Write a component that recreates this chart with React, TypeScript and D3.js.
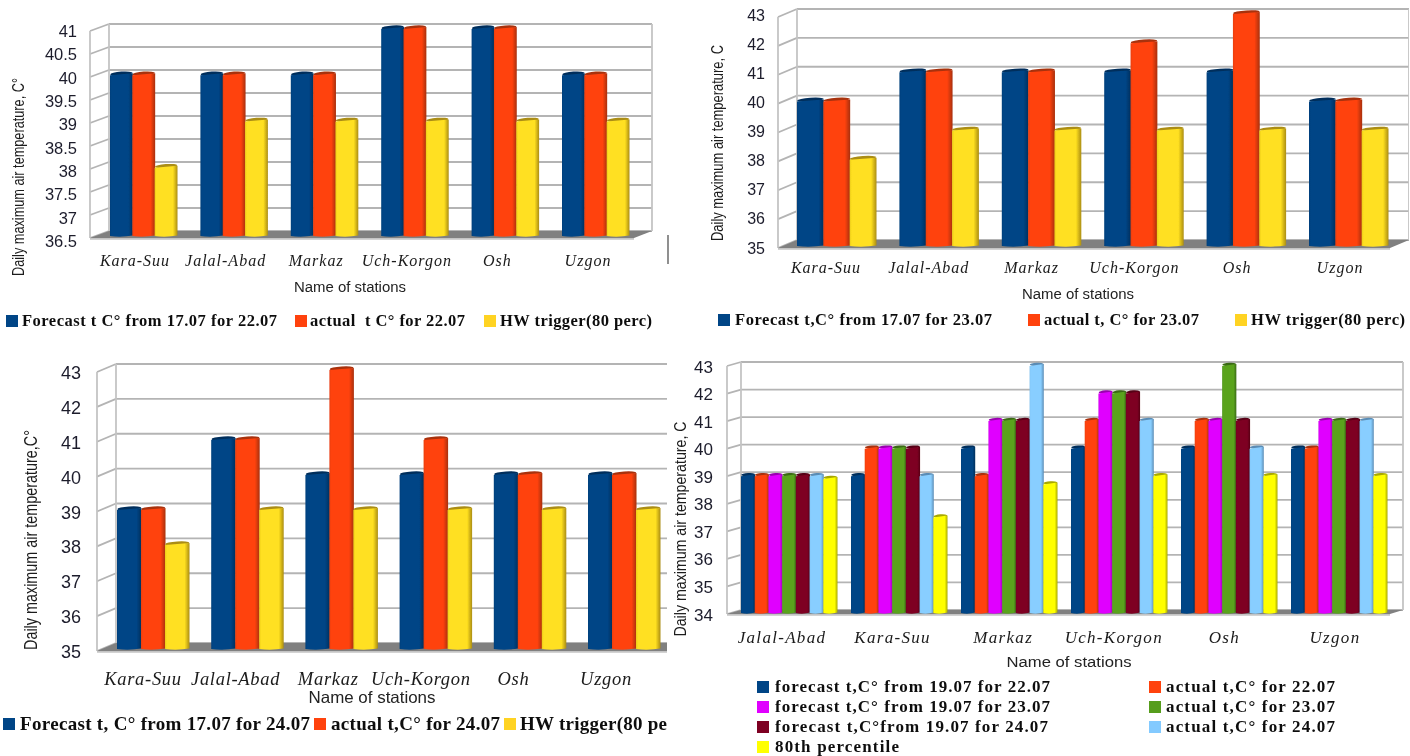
import React from "react";
import * as d3 from "d3";

// ---- categories and tick labels
const stationsA = ["Kara-Suu", "Jalal-Abad", "Markaz", "Uch-Korgon", "Osh", "Uzgon"];
const stationsD = ["Jalal-Abad", "Kara-Suu", "Markaz", "Uch-Korgon", "Osh", "Uzgon"];
const ticksA = [36.5, 37, 37.5, 38, 38.5, 39, 39.5, 40, 40.5, 41];
const ticksB = [35, 36, 37, 38, 39, 40, 41, 42, 43];
const ticksD = [34, 35, 36, 37, 38, 39, 40, 41, 42, 43];

// ---- panel 1 (22.07)
const forecast17for22 = [40, 40, 40, 41, 41, 40];
const actual22a = [40, 40, 40, 41, 41, 40];
const trigger22 = [38, 39, 39, 39, 39, 39];
// ---- panel 2 (23.07)
const forecast17for23 = [40, 41, 41, 41, 41, 40];
const actual23a = [40, 41, 41, 42, 43, 40];
const trigger23 = [38, 39, 39, 39, 39, 39];
// ---- panel 3 (24.07)
const forecast17for24 = [39, 41, 40, 40, 40, 40];
const actual24a = [39, 41, 43, 41, 40, 40];
const trigger24 = [38, 39, 39, 39, 39, 39];
// ---- panel 4 (forecast from 19.07)
const forecast19for22 = [39, 39, 40, 40, 40, 40];
const actual22d = [39, 40, 39, 41, 41, 40];
const forecast19for23 = [39, 40, 41, 42, 41, 41];
const actual23d = [39, 40, 41, 42, 43, 41];
const forecast19for24 = [39, 40, 41, 42, 41, 41];
const actual24d = [39, 39, 43, 41, 40, 41];
const percentile80 = [38.9, 37.5, 38.7, 39, 39, 39];

// [swatch / body colour, shaded edge, lit body colour]
const BLUE = ["#004586", "#002f5c", "#004586"];
const ORANGE = ["#ff420e", "#a8300c", "#ff420e"];
const GOLD = ["#ffd320", "#ab8d12", "#ffe020"];
const MAGENTA = ["#e000ff", "#9a00b0", "#e000ff"];
const GREEN = ["#579d1c", "#3a6a12", "#5aa31e"];
const MAROON = ["#7e0021", "#560016", "#7e0021"];
const SKY = ["#83caff", "#5a8cb5", "#88ceff"];
const YELLOW = ["#ffff00", "#a8a800", "#ffff00"];
const ALL = [BLUE, ORANGE, GOLD, MAGENTA, GREEN, MAROON, SKY, YELLOW];

const SERIF = "'Liberation Serif', serif";
const SANS = "'Liberation Sans', sans-serif";

type Legend = { text: string; sx: number; sy: number; s: number; tx: number; ty: number; len: number; c: string[] };
type P = {
  cats: string[]; ticks: number[]; series: number[][]; colors: string[][];
  back: [number, number]; frontX: number; frontRight: number; dy: number;
  gridTop: number; gridBottom: number; barTop: number; barBottom: number;
  start0: number; start5: number; groupW: number;
  tickX: number; tickTop: number; tickBottom: number; tickSize: number;
  catL: number; catR: number; catY: number; catSize: number; catSpace: number;
  xTitleX: number; xTitleY: number; xTitleSize: number; xTitleLen: number;
  yTitle: string; yTitleX: number; yTitleY: number; yTitleLen: number; yTitleSize: number;
  rightWall: boolean; legendSize: number; legend: Legend[]; capRy: number;
};

const panels: P[] = [
  {
    cats: stationsA, ticks: ticksA, series: [forecast17for22, actual22a, trigger22], colors: [BLUE, ORANGE, GOLD],
    back: [109, 652], frontX: 90, frontRight: 634, dy: 7,
    gridTop: 24, gridBottom: 231, barTop: 28, barBottom: 236,
    start0: 110, start5: 562, groupW: 67,
    tickX: 77, tickTop: 31, tickBottom: 241, tickSize: 16.5,
    catL: 135, catR: 588, catY: 266, catSize: 16, catSpace: 1,
    xTitleX: 350, xTitleY: 292, xTitleSize: 14, xTitleLen: 112,
    yTitle: "Daily maximum air temperature, C°", yTitleX: 24, yTitleY: 177, yTitleLen: 198, yTitleSize: 17,
    rightWall: true, legendSize: 16.5, capRy: 2,
    legend: [
      { text: "Forecast t C° from 17.07 for 22.07", sx: 6, sy: 315, s: 12, tx: 22, ty: 326, len: 255, c: BLUE },
      { text: "actual  t C° for 22.07", sx: 295, sy: 315, s: 12, tx: 310, ty: 326, len: 155, c: ORANGE },
      { text: "HW trigger(80 perc)", sx: 484, sy: 315, s: 12, tx: 500, ty: 326, len: 152, c: GOLD },
    ],
  },
  {
    cats: stationsA, ticks: ticksB, series: [forecast17for23, actual23a, trigger23], colors: [BLUE, ORANGE, GOLD],
    back: [797, 1409], frontX: 778, frontRight: 1390, dy: 8,
    gridTop: 9, gridBottom: 240, barTop: 13, barBottom: 246,
    start0: 797, start5: 1309, groupW: 79,
    tickX: 765, tickTop: 15, tickBottom: 248, tickSize: 16,
    catL: 826, catR: 1340, catY: 273, catSize: 16, catSpace: 1,
    xTitleX: 1078, xTitleY: 299, xTitleSize: 14, xTitleLen: 112,
    yTitle: "Daily maximum air temperature, C", yTitleX: 723, yTitleY: 143, yTitleLen: 196, yTitleSize: 16,
    rightWall: true, legendSize: 16.5, capRy: 2,
    legend: [
      { text: "Forecast t,C° from 17.07 for 23.07", sx: 718, sy: 314, s: 12, tx: 735, ty: 325, len: 257, c: BLUE },
      { text: "actual t, C° for 23.07", sx: 1028, sy: 314, s: 12, tx: 1044, ty: 325, len: 155, c: ORANGE },
      { text: "HW trigger(80 perc)", sx: 1235, sy: 314, s: 12, tx: 1251, ty: 325, len: 154, c: GOLD },
    ],
  },
  {
    cats: stationsA, ticks: ticksB, series: [forecast17for24, actual24a, trigger24], colors: [BLUE, ORANGE, GOLD],
    back: [116, 667], frontX: 97, frontRight: 667, dy: 8,
    gridTop: 364, gridBottom: 643, barTop: 369, barBottom: 649,
    start0: 117, start5: 588, groupW: 72,
    tickX: 81, tickTop: 373, tickBottom: 652, tickSize: 18,
    catL: 143, catR: 606, catY: 685, catSize: 18.5, catSpace: 0.7,
    xTitleX: 372, xTitleY: 703, xTitleSize: 16.5, xTitleLen: 127,
    yTitle: "Daily maximum air temperature,C°", yTitleX: 37, yTitleY: 540, yTitleLen: 220, yTitleSize: 19,
    rightWall: false, legendSize: 19, capRy: 2,
    legend: [
      { text: "Forecast t, C° from 17.07 for 24.07", sx: 3, sy: 718, s: 12, tx: 20, ty: 730, len: 290, c: BLUE },
      { text: "actual t,C° for 24.07", sx: 314, sy: 718, s: 12, tx: 331, ty: 730, len: 169, c: ORANGE },
      { text: "HW trigger(80 pe", sx: 504, sy: 718, s: 12, tx: 520, ty: 730, len: 147, c: GOLD },
    ],
  },
  {
    cats: stationsD, ticks: ticksD,
    series: [forecast19for22, actual22d, forecast19for23, actual23d, forecast19for24, actual24d, percentile80],
    colors: [BLUE, ORANGE, MAGENTA, GREEN, MAROON, SKY, YELLOW],
    back: [741, 1403], frontX: 727, frontRight: 1390, dy: 4,
    gridTop: 362, gridBottom: 610, barTop: 365, barBottom: 613,
    start0: 741, start5: 1291, groupW: 96,
    tickX: 713, tickTop: 367, tickBottom: 615, tickSize: 17,
    catL: 782, catR: 1335, catY: 643, catSize: 17, catSpace: 1.3,
    xTitleX: 1069, xTitleY: 667, xTitleSize: 14, xTitleLen: 125,
    yTitle: "Daily maximum air temperature, C", yTitleX: 686, yTitleY: 529, yTitleLen: 215, yTitleSize: 16.5,
    rightWall: true, legendSize: 17, capRy: 1.6,
    legend: [
      { text: "forecast t,C° from 19.07 for 22.07", sx: 757, sy: 681, s: 12, tx: 775, ty: 692, len: 275, c: BLUE },
      { text: "actual t,C° for 22.07", sx: 1149, sy: 681, s: 12, tx: 1166, ty: 692, len: 169, c: ORANGE },
      { text: "forecast t,C° from 19.07 for 23.07", sx: 757, sy: 701, s: 12, tx: 775, ty: 712, len: 275, c: MAGENTA },
      { text: "actual t,C° for 23.07", sx: 1149, sy: 701, s: 12, tx: 1166, ty: 712, len: 169, c: GREEN },
      { text: "forecast t,C°from 19.07 for 24.07", sx: 757, sy: 721, s: 12, tx: 775, ty: 732, len: 273, c: MAROON },
      { text: "actual t,C° for 24.07", sx: 1149, sy: 721, s: 12, tx: 1166, ty: 732, len: 169, c: SKY },
      { text: "80th percentile", sx: 757, sy: 741, s: 12, tx: 775, ty: 751.5, len: 124, c: YELLOW },
    ],
  },
];

const gid = (c: string[]) => "g" + c[0].slice(1);

function Panel({ p }: { p: P }) {
  const lo = p.ticks[0];
  const hi = p.ticks[p.ticks.length - 1];
  const yBar = d3.scaleLinear().domain([lo, hi]).range([p.barBottom, p.barTop]);
  const yGrid = d3.scaleLinear().domain([lo, hi]).range([p.gridBottom, p.gridTop]);
  const yTick = d3.scaleLinear().domain([lo, hi]).range([p.tickBottom, p.tickTop]);
  const xGroup = d3.scalePoint<string>().domain(p.cats).range([p.start0, p.start5]);
  const xInner = d3.scaleBand<number>().domain(d3.range(p.series.length)).range([0, p.groupW]);
  const xCat = d3.scalePoint<string>().domain(p.cats).range([p.catL, p.catR]);
  const w = xInner.bandwidth();
  const gridC = "#b4b4b4";
  const [bl, br] = p.back;
  const floor = d3.line()([
    [p.frontX, p.gridBottom + p.dy],
    [bl, p.gridBottom],
    [br, p.gridBottom],
    [p.frontRight, p.gridBottom + p.dy],
  ]) + "Z";
  return (
    <g>
      {p.ticks.map((t) => (
        <g key={t} stroke={gridC} strokeWidth={1.8} fill="none">
          <line x1={bl} x2={br} y1={yGrid(t)} y2={yGrid(t)} />
          <line x1={p.frontX} x2={bl} y1={yGrid(t) + p.dy} y2={yGrid(t)} />
        </g>
      ))}
      <g stroke="#c4c4c4" strokeWidth={1.8}>
        <line x1={bl} x2={bl} y1={p.gridTop} y2={p.gridBottom} />
        <line x1={p.frontX} x2={p.frontX} y1={p.gridTop + p.dy} y2={p.gridBottom + p.dy} />
        {p.rightWall && <line x1={br} x2={br} y1={p.gridTop} y2={p.gridBottom} />}
        <line x1={p.frontX} x2={p.frontRight} y1={p.gridBottom + p.dy + 0.8} y2={p.gridBottom + p.dy + 0.8} />
      </g>
      <path d={floor} fill="#808080" />
      {p.cats.map((cat, ci) =>
        p.series.map((vals, si) => {
          const x = (xGroup(cat) as number) + (xInner(si) as number);
          const yt = yBar(vals[ci]);
          const yb = p.barBottom;
          const col = p.colors[si];
          return (
            <g key={cat + si}>
              <ellipse cx={x + w / 2 + 0.3} cy={yt - 0.6} rx={w / 2} ry={p.capRy}
                transform={`rotate(-4 ${x + w / 2} ${yt})`} fill={col[1]} />
              <path fill={`url(#${gid(col)})`}
                d={`M${x},${yt + 1}Q${x + w / 2},${yt - 0.2} ${x + w + 0.5},${yt - 1}L${x + w + 0.5},${yb - 0.5}Q${x + w / 2},${yb + 1.5} ${x},${yb}Z`} />
            </g>
          );
        })
      )}
      {p.ticks.map((t) => (
        <text key={t} x={p.tickX} y={yTick(t)} textAnchor="end" dominantBaseline="central"
          fontFamily={SANS} fontSize={p.tickSize} fill="#1c1c2c">{String(t)}</text>
      ))}
      {p.cats.map((c) => (
        <text key={c} x={xCat(c)} y={p.catY} textAnchor="middle" fontFamily={SERIF} fontStyle="italic"
          fontSize={p.catSize} letterSpacing={p.catSpace} fill="#1a1a1a">{c}</text>
      ))}
      <text x={p.xTitleX} y={p.xTitleY} textAnchor="middle" fontFamily={SANS} fontSize={p.xTitleSize}
        textLength={p.xTitleLen} lengthAdjust="spacingAndGlyphs" fill="#222">Name of stations</text>
      <text transform={`translate(${p.yTitleX},${p.yTitleY}) rotate(-90)`} textAnchor="middle" fontFamily={SANS}
        fontSize={p.yTitleSize} textLength={p.yTitleLen} lengthAdjust="spacingAndGlyphs" fill="#1a1a1a">{p.yTitle}</text>
      {p.legend.map((l) => (
        <g key={l.text}>
          <rect x={l.sx} y={l.sy} width={l.s} height={l.s} fill={l.c[0]} />
          <text x={l.tx} y={l.ty} fontFamily={SERIF} fontWeight="bold" fontSize={p.legendSize}
            textLength={l.len} lengthAdjust="spacing" fill="#111" xmlSpace="preserve">{l.text}</text>
        </g>
      ))}
    </g>
  );
}

export default function App() {
  return (
    <svg width={1410} height={756} viewBox="0 0 1410 756"
      style={{ position: "absolute", left: 0, top: 0, display: "block", background: "#fff" }}>
      <defs>
        {ALL.map((c) => (
          <linearGradient key={c[0]} id={gid(c)} x1="0" x2="1" y1="0" y2="0">
            <stop offset="0" stopColor={d3.interpolateRgb(c[2], c[1])(0.25)} />
            <stop offset="0.08" stopColor={c[2]} />
            <stop offset="0.8" stopColor={c[2]} />
            <stop offset="1" stopColor={c[1]} />
          </linearGradient>
        ))}
        <filter id="soft" x="0" y="0" width="100%" height="100%">
          <feGaussianBlur stdDeviation="0.35" />
        </filter>
      </defs>
      <g filter="url(#soft)">
        {panels.map((p, i) => <Panel key={i} p={p} />)}
        <line x1={668} x2={668} y1={235} y2={264} stroke="#444" strokeWidth={1.2} />
      </g>
    </svg>
  );
}
